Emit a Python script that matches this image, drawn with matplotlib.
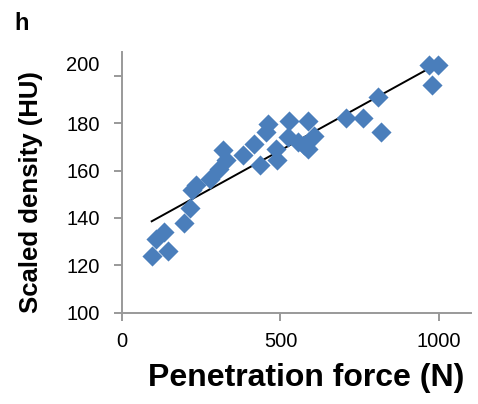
import matplotlib.pyplot as plt
import matplotlib.transforms as mtransforms
import numpy as np

plt.rcParams['font.family'] = ['Liberation Sans', 'DejaVu Sans']

force = [94, 107, 133, 144, 195, 214, 222, 235, 279, 306, 319, 329, 381, 415,
         434, 453, 460, 486, 490, 523, 528, 555, 575, 586, 586, 607, 707, 759,
         806, 818, 969, 997, 977]
density = [124, 131, 134, 126, 138, 144, 152, 154, 156.6, 160.8, 168.5, 164.3,
           166.4, 171.3, 162.2, 176.2, 179.7, 169.2, 164.6, 174.1, 181.1, 172.0,
           170.6, 169.2, 181.1, 174.8, 182.1, 182.1, 191, 176.1, 204.6, 204.6,
           196.2]
xticks = [0, 500, 1000]
yticks = [100, 120, 140, 160, 180, 200]

fig = plt.figure(figsize=(4.78, 4.04), dpi=100)
ax = fig.add_axes([0.255, 0.226, 0.73, 0.645])

x = np.array(force)
y = np.array(density)
ax.scatter(x, y, marker='D', s=105, color='#4a7ebb', linewidths=0, zorder=3)

# linear trendline
k, b = np.polyfit(x, y, 1)
xl = np.array([x.min(), x.max()])
ax.plot(xl, k * xl + b, color='black', lw=1.4, zorder=2)

ax.set_xlim(0, 1100)
ax.set_ylim(100, 210)
ax.set_xticks(xticks)
ax.set_yticks(yticks)
for s in ['top', 'right']:
    ax.spines[s].set_visible(False)
for s in ['left', 'bottom']:
    ax.spines[s].set_color('#999999')
    ax.spines[s].set_linewidth(1.4)
ax.tick_params(colors='#999999', width=1.4, length=6, labelsize=14.5,
               labelcolor='black')
ax.tick_params(axis='y', pad=10)
ax.tick_params(axis='x', pad=8)

# top label sits higher in the original
lab = ax.get_yticklabels()[-1]
lab.set_transform(lab.get_transform() +
                  mtransforms.ScaledTranslation(0, 0.12, fig.dpi_scale_trans))

ax.set_xlabel('Penetration force (N)', fontsize=23, fontweight='bold')
ax.set_ylabel('Scaled density (HU)', fontsize=18.5, fontweight='bold')
ax.xaxis.set_label_coords(0.527, -0.193)
ax.yaxis.set_label_coords(-0.226, 0.463)
fig.text(0.03, 0.926, 'h', fontsize=17, fontweight='bold')

fig.savefig('out.png', dpi=100)
